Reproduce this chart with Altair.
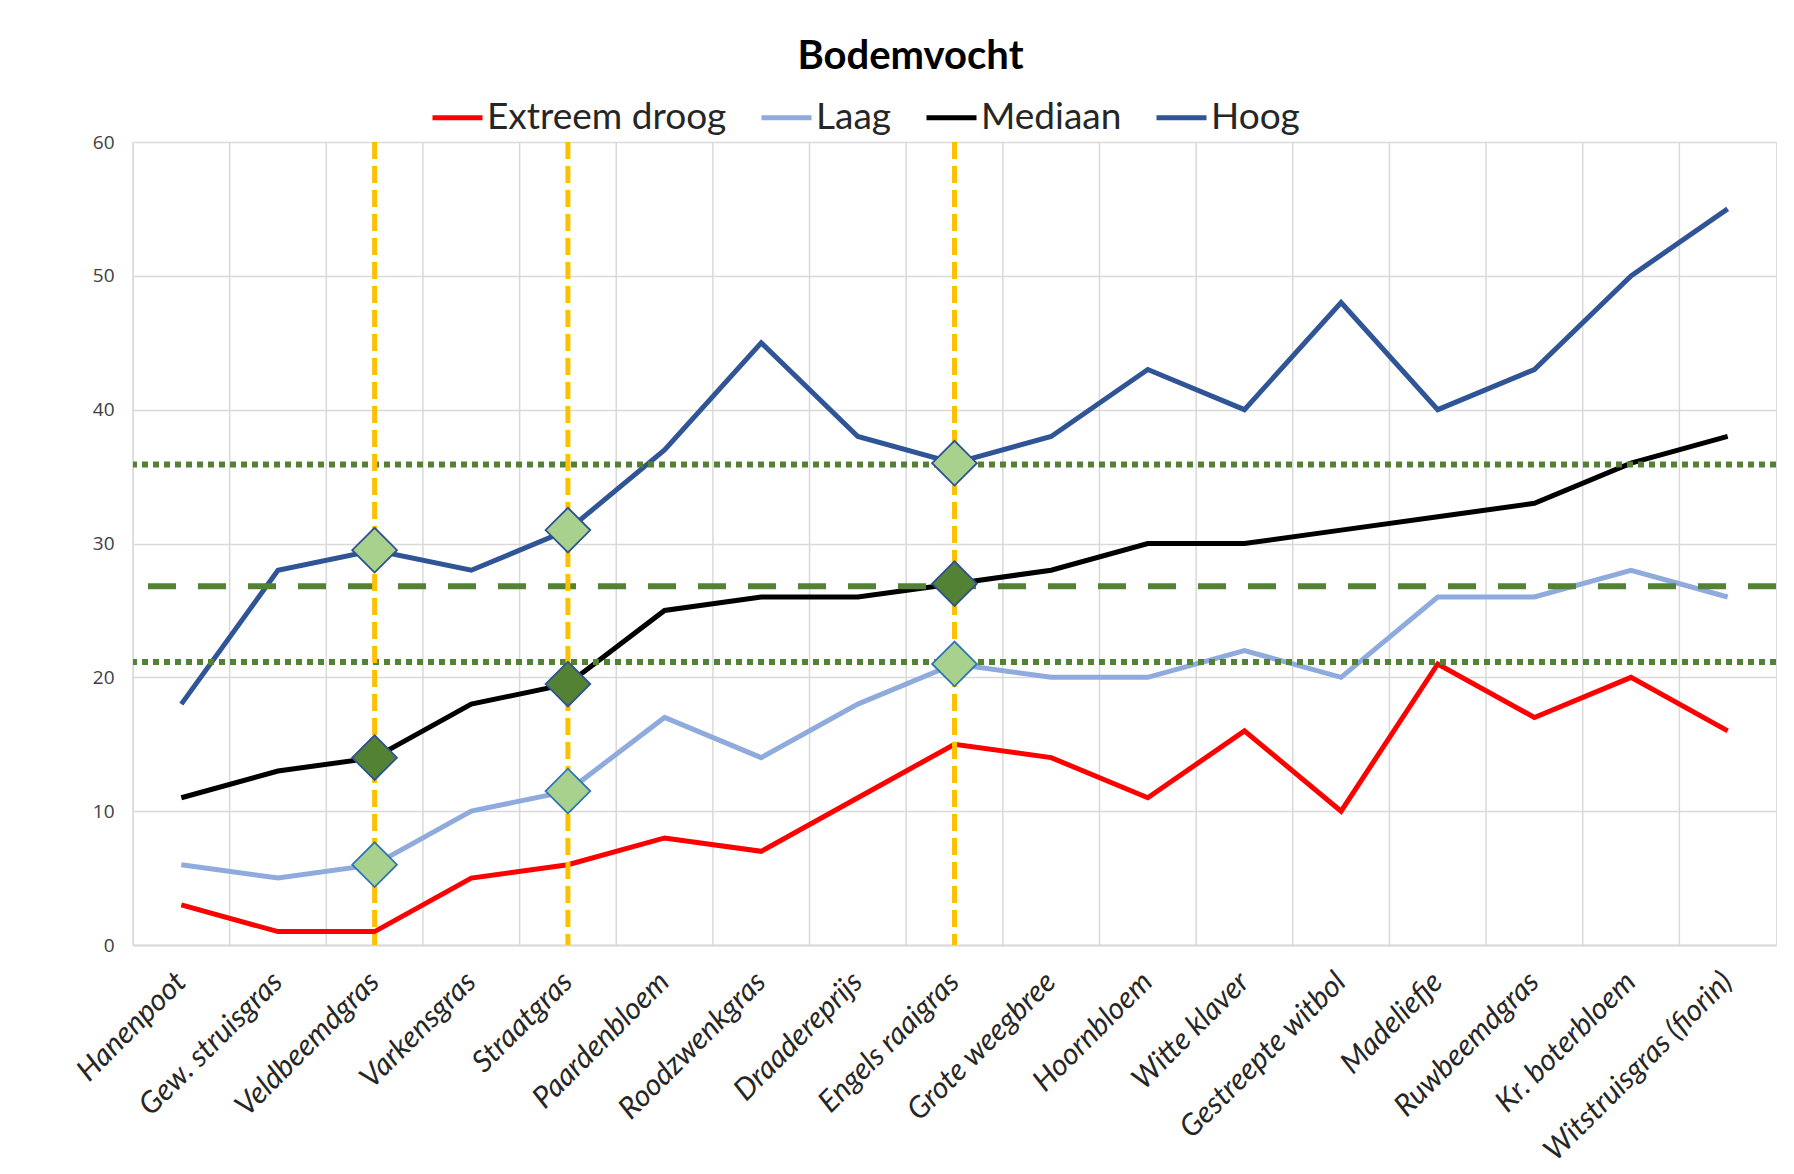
import altair as alt
import pandas as pd

categories = ["Hanenpoot", "Gew. struisgras", "Veldbeemdgras", "Varkensgras", "Straatgras",
              "Paardenbloem", "Roodzwenkgras", "Draadereprijs", "Engels raaigras", "Grote weegbree",
              "Hoornbloem", "Witte klaver", "Gestreepte witbol", "Madeliefje", "Ruwbeemdgras",
              "Kr. boterbloem", "Witstruisgras (fiorin)"]
extreem_droog = [3, 1, 1, 5, 6, 8, 7, 11, 15, 14, 11, 16, 10, 21, 17, 20, 16]
laag = [6, 5, 6, 10, 11.5, 17, 14, 18, 21, 20, 20, 22, 20, 26, 26, 28, 26]
mediaan = [11, 13, 14, 18, 19.5, 25, 26, 26, 27, 28, 30, 30, 31, 32, 33, 36, 38]
hoog = [18, 28, 29.5, 28, 31, 37, 45, 38, 36, 38, 43, 40, 48, 40, 43, 50, 55]

series_names = ["Extreem droog", "Laag", "Mediaan", "Hoog"]
series_colors = ["#FF0000", "#8FAADC", "#000000", "#2F5597"]

highlight_cats = ["Veldbeemdgras", "Straatgras", "Engels raaigras"]
marker_series = ["Hoog", "Mediaan", "Laag"]
marker_fill = {"Hoog": "#A9D18E", "Mediaan": "#548235", "Laag": "#A9D18E"}
marker_stroke = {"Hoog": "#2F528F", "Mediaan": "#2F528F", "Laag": "#2E75B6"}

dotted_levels = [35.9, 21.15]
dashed_levels = [26.8]

# ---- tables ----
values_by_series = {"Extreem droog": extreem_droog, "Laag": laag, "Mediaan": mediaan, "Hoog": hoog}
rows = []
for s in series_names:
    for i, c in enumerate(categories):
        rows.append({"categorie": c, "reeks": s, "waarde": values_by_series[s][i], "volg": i})
df = pd.DataFrame(rows)

mrows = []
for c in highlight_cats:
    i = categories.index(c)
    for s in marker_series:
        mrows.append({"categorie": c, "reeks": s, "waarde": values_by_series[s][i],
                      "vul": marker_fill[s], "rand": marker_stroke[s]})
mdf = pd.DataFrame(mrows)

cat_df = pd.DataFrame({"categorie": categories})
hl_df = pd.DataFrame({"categorie": highlight_cats})
dot_df = pd.DataFrame({"niveau": dotted_levels})
dash_df = pd.DataFrame({"niveau": dashed_levels})

W, H = 1643, 803
xscale = alt.Scale(type="band", domain=categories, paddingInner=0, paddingOuter=0)
yscale = alt.Scale(domain=[0, 60], nice=False)

x_axis = alt.Axis(title=None, labelAngle=-45, labelAlign="right", labelBaseline="middle",
                  labelFont="Lato", labelFontStyle="italic", labelFontSize=30,
                  labelColor="#262626", labelPadding=32, ticks=False, grid=False,
                  domainColor="#D9D9D9", domainWidth=2, labelLimit=500, labelOverlap=False)
y_axis = alt.Axis(title=None, values=[0, 10, 20, 30, 40, 50, 60], grid=True,
                  gridColor="#D9D9D9", gridWidth=1.5, domain=False, ticks=False,
                  labelFont="Open Sans", labelFontSize=19, labelColor="#404040",
                  labelPadding=19)

vgrid = alt.Chart(cat_df).mark_rule(color="#D9D9D9", strokeWidth=1.5).encode(
    x=alt.X("categorie:N", scale=xscale, axis=x_axis, bandPosition=0)
)

lines = alt.Chart(df).mark_line(strokeWidth=5, strokeJoin="miter").encode(
    x=alt.X("categorie:N", scale=xscale, axis=x_axis, bandPosition=0.5),
    y=alt.Y("waarde:Q", scale=yscale, axis=y_axis),
    color=alt.Color("reeks:N", scale=alt.Scale(domain=series_names, range=series_colors),
                    legend=alt.Legend(title=None, orient="none", direction="horizontal",
                                      legendX=297, legendY=-52,
                                      symbolType="stroke", symbolSize=2500,
                                      symbolStrokeWidth=5, labelFont="Lato",
                                      labelFontSize=37, labelColor="#262626",
                                      labelOffset=2, columnPadding=24, labelLimit=400)),
    order=alt.Order("volg:Q"),
)

dotted = alt.Chart(dot_df).mark_rule(color="#548235", strokeWidth=6, strokeDash=[6, 5]).encode(
    y=alt.Y("niveau:Q", scale=yscale)
)
dashed = alt.Chart(dash_df).mark_rule(color="#548235", strokeWidth=6, strokeDash=[28, 22]).encode(
    y=alt.Y("niveau:Q", scale=yscale)
)

orange = alt.Chart(hl_df).mark_rule(color="#FFC000", strokeWidth=5, strokeDash=[17, 7]).encode(
    x=alt.X("categorie:N", scale=xscale, bandPosition=0.5)
)

markers = alt.Chart(mdf).mark_point(shape="diamond", filled=True, size=2000, strokeWidth=1.8,
                                    opacity=1).encode(
    x=alt.X("categorie:N", scale=xscale, bandPosition=0.5),
    y=alt.Y("waarde:Q", scale=yscale),
    fill=alt.Fill("vul:N", scale=None),
    stroke=alt.Stroke("rand:N", scale=None),
)

chart = alt.layer(vgrid, lines, dotted, dashed, orange, markers).properties(
    width=W, height=H,
    title=alt.TitleParams("Bodemvocht", font="Lato", fontSize=40, fontWeight="bold",
                          color="#000000", anchor="middle", dx=-44, dy=43, offset=24,
                          baseline="alphabetic"),
    autosize=alt.AutoSizeParams(type="none"),
    padding={"left": 125, "top": 134, "right": 10, "bottom": 222},
).configure_view(stroke="#D9D9D9", strokeWidth=1.5).configure(background="#FFFFFF")

chart.save("out.html", embed_options={"renderer": "svg", "actions": False})
